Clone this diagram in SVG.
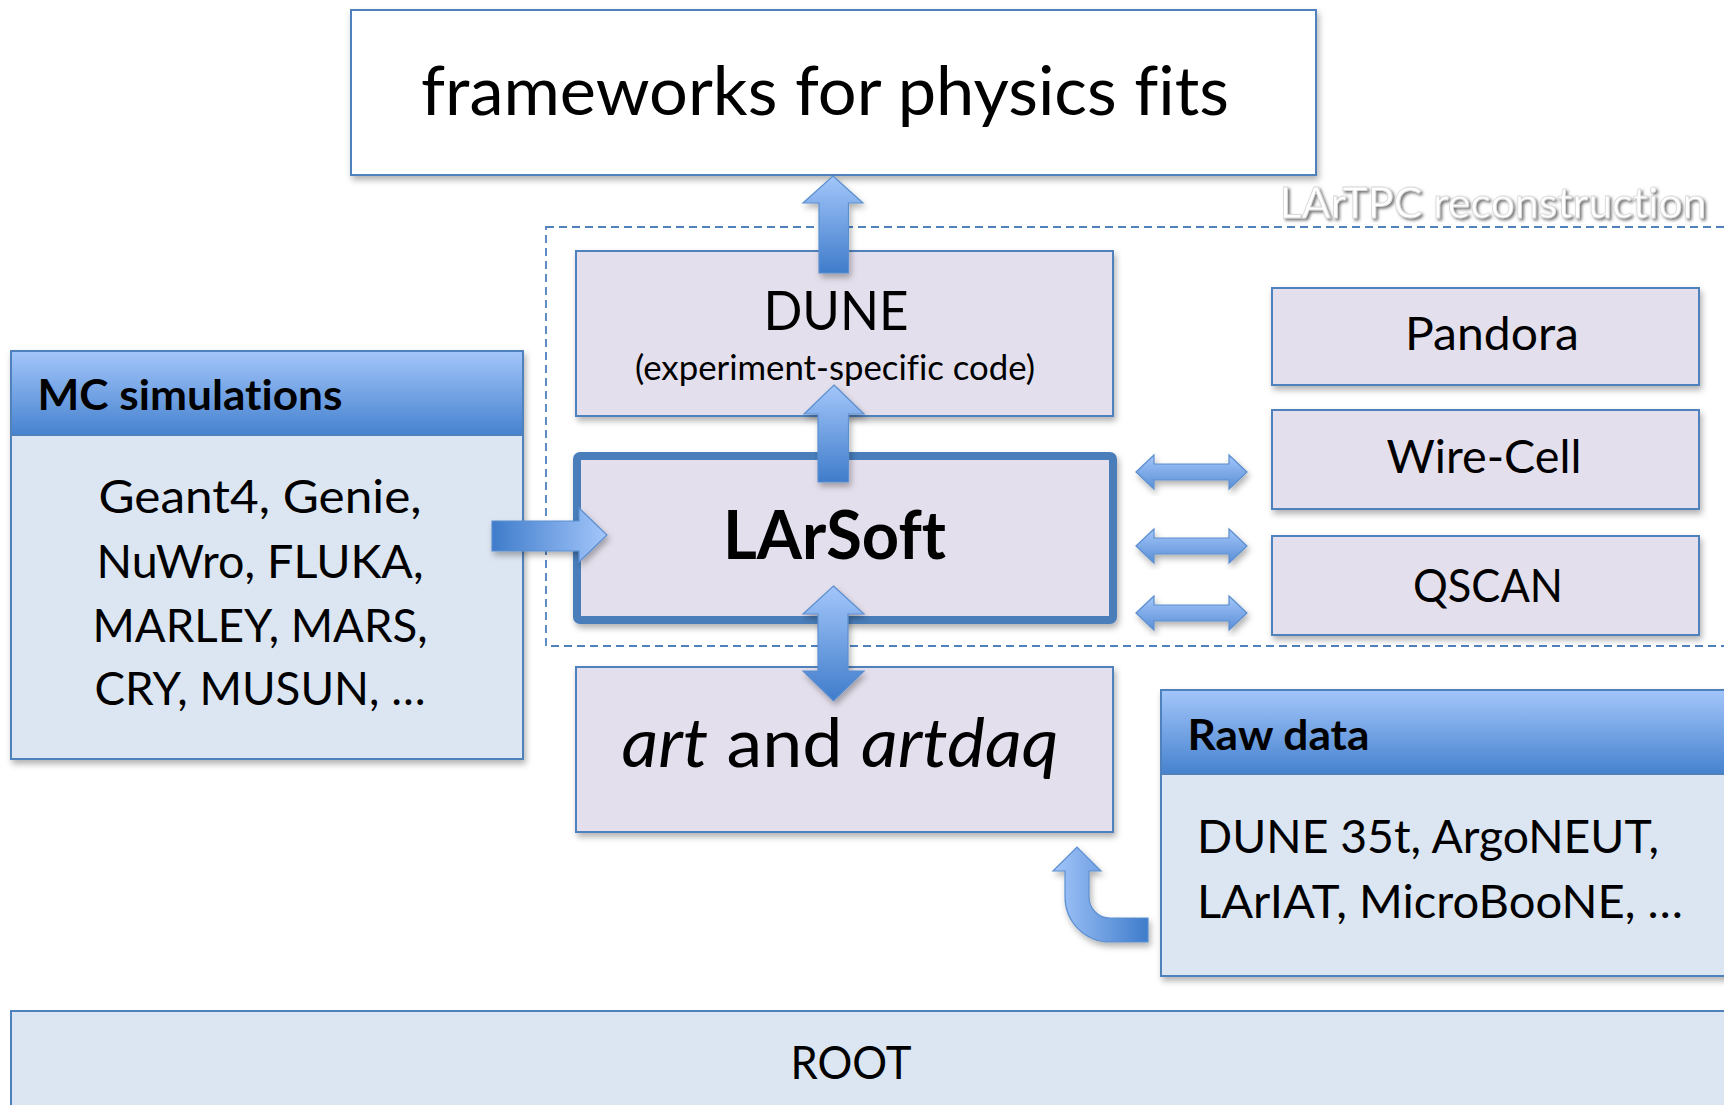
<svg xmlns="http://www.w3.org/2000/svg" width="1724" height="1105" viewBox="0 0 1724 1105">
<defs>
  <style>
    .t{font-family:Lato,"Liberation Sans",sans-serif;fill:#000;font-variant-ligatures:none;font-feature-settings:"liga" 0}
    .b{font-weight:bold}
    .box{stroke:#4f81bd;stroke-width:2}
    .lav{fill:#e4dfec}
    .lb{fill:#dce6f2}
    .arr{stroke:#5b8fd0;stroke-width:1.2}
  </style>
  <linearGradient id="gv" x1="0" y1="0" x2="0" y2="1">
    <stop offset="0" stop-color="#a3c6fa"/>
    <stop offset="1" stop-color="#3f7ccb"/>
  </linearGradient>
  <linearGradient id="gh" x1="0" y1="0" x2="1" y2="0">
    <stop offset="0" stop-color="#3f7ccb"/>
    <stop offset="1" stop-color="#a3c6fa"/>
  </linearGradient>
  <linearGradient id="ghr" x1="0" y1="0" x2="1" y2="0">
    <stop offset="0" stop-color="#a3c6fa"/>
    <stop offset="1" stop-color="#3f7ccb"/>
  </linearGradient>
  <linearGradient id="gd" x1="0" y1="0" x2="0" y2="1">
    <stop offset="0" stop-color="#a3c6fa"/>
    <stop offset="1" stop-color="#5b8fd6"/>
  </linearGradient>
  <linearGradient id="hdr" x1="0" y1="0" x2="0" y2="1">
    <stop offset="0" stop-color="#a3c6fa"/>
    <stop offset="1" stop-color="#4682cf"/>
  </linearGradient>
  <filter id="sh" x="-5%" y="-10%" width="115%" height="130%">
    <feDropShadow dx="2" dy="4" stdDeviation="3" flood-color="#000" flood-opacity="0.3"/>
  </filter>
  <filter id="tsh" x="-5%" y="-20%" width="115%" height="150%">
    <feDropShadow dx="2" dy="2" stdDeviation="1.5" flood-color="#555" flood-opacity="0.8"/>
  </filter>
</defs>
<rect width="1724" height="1105" fill="#fff"/>

<g id="region-lartpc">
  <rect x="546" y="227" width="1240" height="419" fill="none" stroke="#4f81bd" stroke-width="1.8" stroke-dasharray="8,5"/>
  <text class="t" x="1493" y="218" font-size="42" text-anchor="middle" textLength="427" lengthAdjust="spacingAndGlyphs" style="fill:#fff;stroke:#d8d8d8;stroke-width:0.8" filter="url(#tsh)">LArTPC reconstruction</text>
</g>

<g id="frameworks">
  <rect class="box" x="351" y="10" width="965" height="165" fill="#fff" filter="url(#sh)"/>
  <text class="t" x="825" y="115" font-size="68" text-anchor="middle" textLength="808" lengthAdjust="spacingAndGlyphs">frameworks for physics fits</text>
</g>

<g id="dune">
  <rect class="box lav" x="576" y="251" width="537" height="165" filter="url(#sh)"/>
  <text class="t" x="836" y="330" font-size="55" text-anchor="middle" textLength="145" lengthAdjust="spacingAndGlyphs">DUNE</text>
  <text class="t" x="835" y="380" font-size="34" text-anchor="middle" textLength="400" lengthAdjust="spacingAndGlyphs">(experiment-specific code)</text>
</g>

<g id="larsoft">
  <rect class="lav" x="577" y="456" width="536" height="164" rx="3" stroke="#4a7ebb" stroke-width="8" filter="url(#sh)"/>
  <text class="t b" x="834.5" y="559" font-size="66" text-anchor="middle" textLength="223" lengthAdjust="spacingAndGlyphs">LArSoft</text>
</g>

<g id="art">
  <rect class="box lav" x="576" y="667" width="537" height="165" filter="url(#sh)"/>
  <text class="t" x="840" y="767" font-size="68" text-anchor="middle" textLength="437" lengthAdjust="spacingAndGlyphs"><tspan font-style="italic">art</tspan> and <tspan font-style="italic">artdaq</tspan></text>
</g>

<g id="pandora">
  <rect class="box lav" x="1272" y="288" width="427" height="97" filter="url(#sh)"/>
  <text class="t" x="1492" y="350" font-size="46" text-anchor="middle" textLength="174" lengthAdjust="spacingAndGlyphs">Pandora</text>
</g>
<g id="wirecell">
  <rect class="box lav" x="1272" y="410" width="427" height="99" filter="url(#sh)"/>
  <text class="t" x="1484" y="473" font-size="46" text-anchor="middle" textLength="195" lengthAdjust="spacingAndGlyphs">Wire-Cell</text>
</g>
<g id="qscan">
  <rect class="box lav" x="1272" y="536" width="427" height="99" filter="url(#sh)"/>
  <text class="t" x="1488" y="602" font-size="46" text-anchor="middle" textLength="150" lengthAdjust="spacingAndGlyphs">QSCAN</text>
</g>

<g id="mc-simulations">
  <rect class="box lb" x="11" y="351" width="512" height="408" filter="url(#sh)"/>
  <rect class="box" x="11" y="351" width="512" height="84" fill="url(#hdr)"/>
  <text class="t b" x="37.5" y="410" font-size="42" textLength="305" lengthAdjust="spacingAndGlyphs">MC simulations</text>
  <text class="t" x="260" y="513" font-size="46" text-anchor="middle" textLength="323" lengthAdjust="spacingAndGlyphs">Geant4, Genie,</text>
  <text class="t" x="260" y="578" font-size="46" text-anchor="middle" textLength="327" lengthAdjust="spacingAndGlyphs">NuWro, FLUKA,</text>
  <text class="t" x="260" y="642" font-size="46" text-anchor="middle" textLength="335" lengthAdjust="spacingAndGlyphs">MARLEY, MARS,</text>
  <text class="t" x="260" y="705" font-size="46" text-anchor="middle" textLength="331" lengthAdjust="spacingAndGlyphs">CRY, MUSUN, …</text>
</g>

<g id="raw-data">
  <rect class="box lb" x="1161" y="690" width="600" height="286" filter="url(#sh)"/>
  <rect class="box" x="1161" y="690" width="600" height="84" fill="url(#hdr)"/>
  <text class="t b" x="1187.5" y="750" font-size="42" textLength="182" lengthAdjust="spacingAndGlyphs">Raw data</text>
  <text class="t" x="1197" y="853" font-size="47" textLength="462" lengthAdjust="spacingAndGlyphs">DUNE 35t, ArgoNEUT,</text>
  <text class="t" x="1197" y="918" font-size="47" textLength="486" lengthAdjust="spacingAndGlyphs">LArIAT, MicroBooNE, …</text>
</g>

<g id="root">
  <rect class="box lb" x="11" y="1011" width="1760" height="120"/>
  <text class="t" x="851" y="1079" font-size="46" text-anchor="middle" textLength="121" lengthAdjust="spacingAndGlyphs">ROOT</text>
</g>

<g id="connectors">
  <path class="arr" fill="url(#gv)" filter="url(#sh)" d="M833,176 L863,203 L848.5,203 L848.5,273 L819,273 L819,203 L803,203 Z"/>
  <path class="arr" fill="url(#gv)" filter="url(#sh)" d="M834,385 L864,414 L848.5,414 L848.5,482 L818,482 L818,414 L804,414 Z"/>
  <path class="arr" fill="url(#gv)" filter="url(#sh)" d="M833.5,586 L864,614 L848,614 L848,671 L864,671 L833.5,701 L803,671 L818,671 L818,614 L803,614 Z"/>
  <path class="arr" fill="url(#gh)" filter="url(#sh)" d="M492,521 L579,521 L579,508 L607,535 L579,562 L579,551 L492,551 Z"/>
  <path class="arr" fill="url(#gd)" filter="url(#sh)" d="M1136,472 L1154,455 L1154,464 L1229,464 L1229,455 L1247,472 L1229,489 L1229,480 L1154,480 L1154,489 Z"/>
  <path class="arr" fill="url(#gd)" filter="url(#sh)" d="M1136,546 L1154,529 L1154,538 L1229,538 L1229,529 L1247,546 L1229,563 L1229,554 L1154,554 L1154,563 Z"/>
  <path class="arr" fill="url(#gd)" filter="url(#sh)" d="M1136,613 L1154,596 L1154,605 L1229,605 L1229,596 L1247,613 L1229,630 L1229,621 L1154,621 L1154,630 Z"/>
  <path class="arr" fill="url(#ghr)" filter="url(#sh)" d="M1148,918 L1110,918 A21,21 0 0 1 1089,897 L1089,871 L1101,871 L1077,847 L1053,871 L1065,871 L1065,897 A45,45 0 0 0 1110,942 L1148,942 Z"/>
</g>
</svg>
